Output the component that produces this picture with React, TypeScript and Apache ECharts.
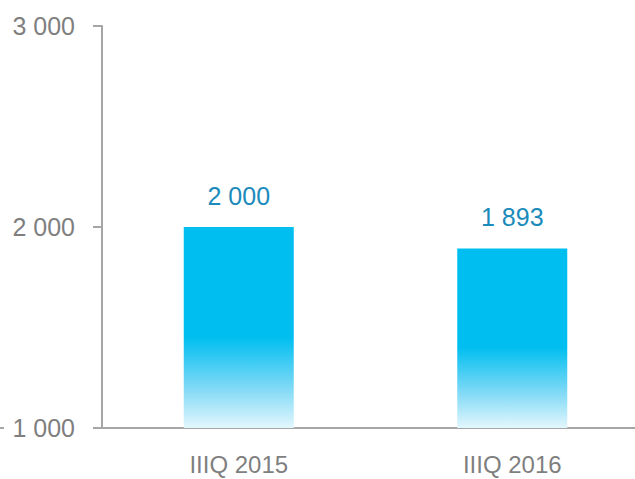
import React, { useEffect, useRef } from "react";
import * as echarts from "echarts";

const categories = ["IIIQ 2015", "IIIQ 2016"];
const values = [2000, 1893];
const yTicks = { min: 1000, max: 3000, interval: 1000 };

const FONT = "'Liberation Sans Narrow', 'Arial Narrow', 'Liberation Sans', Arial, sans-serif";

function fmt(v: number): string {
  return String(Math.round(v)).replace(/\B(?=(\d{3})+(?!\d))/g, " ");
}

export default function App() {
  const ref = useRef<HTMLDivElement>(null);
  useEffect(() => {
    if (!ref.current) return;
    const chart = echarts.init(ref.current, undefined, { renderer: "svg" });
    chart.setOption({
      animation: false,
      grid: {
        left: 102,
        width: 547,
        top: 26,
        height: 402,
        containLabel: false,
        outerBoundsMode: "none",
      },
      xAxis: {
        type: "category",
        data: categories,
        axisLine: { show: true, lineStyle: { color: "#A6A6A6", width: 2 } },
        axisTick: { show: false },
        axisLabel: { color: "#7F7F7F", fontSize: 24, fontFamily: FONT, margin: 24 },
      },
      yAxis: {
        type: "value",
        min: yTicks.min,
        max: yTicks.max,
        interval: yTicks.interval,
        axisLine: { show: true, lineStyle: { color: "#A6A6A6", width: 2 } },
        axisTick: { show: true, length: 9, lineStyle: { color: "#A6A6A6", width: 2 } },
        splitLine: { show: false },
        axisLabel: {
          color: "#7F7F7F",
          fontSize: 25,
          fontFamily: FONT,
          margin: 27,
          formatter: (v: number) => fmt(v),
        },
      },
      graphic: [
        {
          type: "line",
          shape: { x1: 0, y1: 428, x2: 4, y2: 428 },
          style: { stroke: "#A6A6A6", lineWidth: 2 },
        },
      ],
      series: [
        {
          type: "bar",
          data: values,
          barWidth: 110,
          itemStyle: {
            color: new echarts.graphic.LinearGradient(0, 0, 0, 1, [
              { offset: 0, color: "#00BFF0" },
              { offset: 0.55, color: "#00BFF0" },
              { offset: 0.8, color: "#7FD9F6" },
              { offset: 1, color: "#E3F7FD" },
            ]),
          },
          label: {
            show: true,
            position: "top",
            distance: 19,
            color: "#1A8BBA",
            fontSize: 25,
            fontFamily: FONT,
            formatter: (p: any) => fmt(p.value),
          },
        },
      ],
    });
    return () => chart.dispose();
  }, []);
  return <div ref={ref} style={{ width: 635, height: 479, position: "absolute", left: 0, top: 0 }} />;
}
